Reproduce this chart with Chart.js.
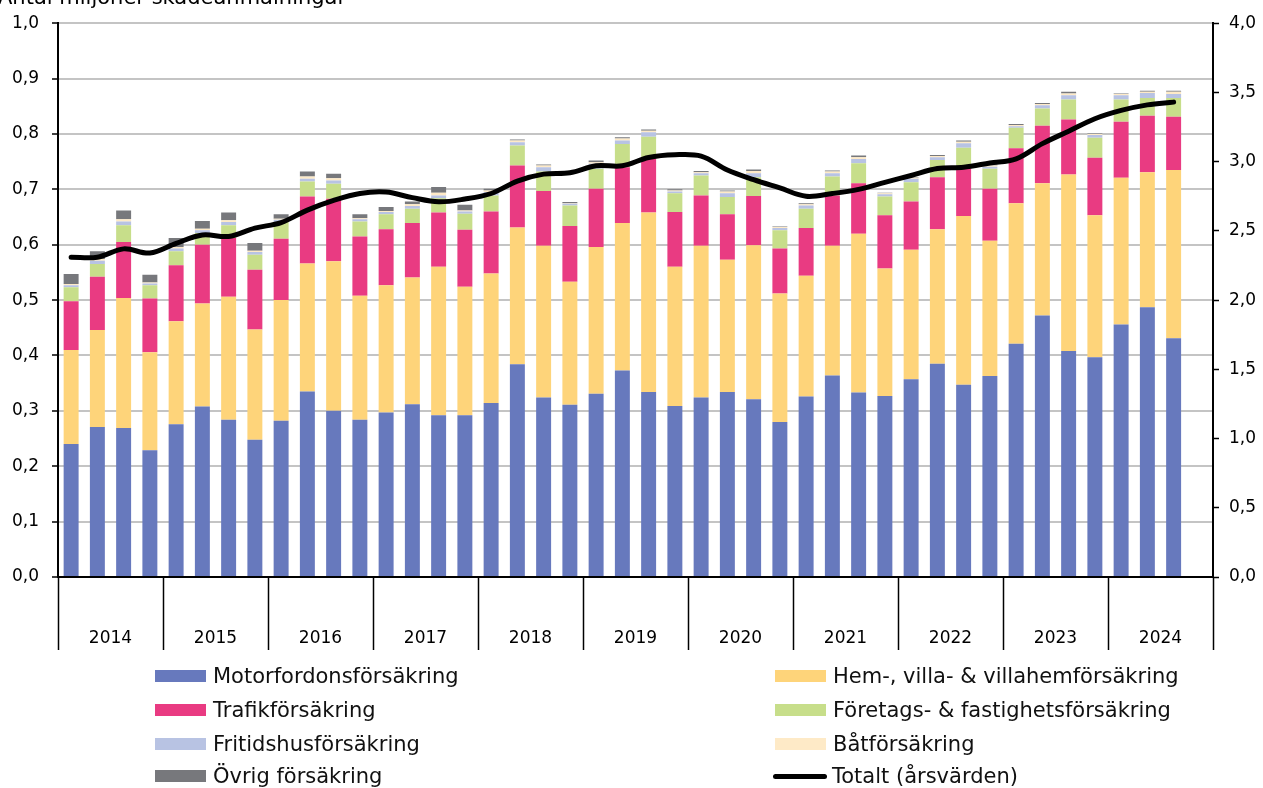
<!DOCTYPE html>
<html lang="sv">
<head>
<meta charset="utf-8">
<title>Antal miljoner skadeanmälningar</title>
<script src="https://cdn.jsdelivr.net/npm/chart.js@4.4.1/dist/chart.umd.min.js"></script>
<style>
    html, body { margin: 0; padding: 0; background: #fff; }
    #wrap { position: relative; width: 1263px; height: 788px; overflow: hidden; font-family: "DejaVu Sans", Verdana, sans-serif; }
    #title { position: absolute; left: -2px; top: -13px; font-size: 21px; line-height: 21px; color: #000; white-space: nowrap; }
    #legend { position: absolute; left: 0; top: 0; width: 100%; height: 100%; pointer-events: none; }
    .item { position: absolute; display: flex; align-items: center; font-size: 21px; color: #111; white-space: nowrap; height: 30px; }
    .swatch { width: 51px; height: 12px; margin-right: 7px; }
    .swatch.line { height: 5px; border-radius: 3px; margin-right: 5px; }
</style>
</head>
<body>
<div id="wrap">
    <canvas id="chart" width="1263" height="788"></canvas>
    <div id="title">Antal miljoner skadeanmälningar</div>
    <div id="legend"></div>
</div>
<script>
// -------------------------
// Data (miljoner skadeanmälningar per kvartal)
// -------------------------
const years = ['2014', '2015', '2016', '2017', '2018', '2019', '2020', '2021', '2022', '2023', '2024'];
const quarters = years.flatMap(y => ['K1', 'K2', 'K3', 'K4'].map(q => y + ' ' + q));

const motor = [0.240, 0.271, 0.269, 0.229, 0.276, 0.308, 0.284, 0.248, 0.282, 0.335, 0.300, 0.284,
    0.297, 0.312, 0.292, 0.292, 0.314, 0.384, 0.324, 0.311, 0.331, 0.373, 0.334, 0.309,
    0.324, 0.334, 0.321, 0.280, 0.326, 0.364, 0.333, 0.327, 0.357, 0.385, 0.347, 0.363,
    0.421, 0.472, 0.408, 0.397, 0.456, 0.487, 0.431, null];
const hem = [0.170, 0.175, 0.235, 0.177, 0.186, 0.186, 0.222, 0.199, 0.218, 0.231, 0.270, 0.224,
    0.230, 0.229, 0.268, 0.232, 0.234, 0.247, 0.274, 0.222, 0.265, 0.266, 0.324, 0.251,
    0.274, 0.239, 0.278, 0.232, 0.218, 0.234, 0.287, 0.230, 0.234, 0.243, 0.305, 0.244,
    0.254, 0.239, 0.319, 0.256, 0.265, 0.244, 0.304, null];
const trafik = [0.088, 0.096, 0.101, 0.097, 0.101, 0.106, 0.106, 0.108, 0.111, 0.121, 0.113, 0.107,
    0.101, 0.098, 0.098, 0.103, 0.112, 0.112, 0.099, 0.101, 0.105, 0.101, 0.097, 0.099,
    0.091, 0.082, 0.089, 0.081, 0.086, 0.091, 0.091, 0.096, 0.087, 0.094, 0.085, 0.094,
    0.099, 0.104, 0.099, 0.104, 0.101, 0.102, 0.096, null];
const foretag = [0.025, 0.023, 0.030, 0.024, 0.025, 0.021, 0.023, 0.027, 0.030, 0.027, 0.027, 0.027,
    0.027, 0.026, 0.026, 0.029, 0.029, 0.036, 0.035, 0.037, 0.036, 0.042, 0.040, 0.034,
    0.036, 0.031, 0.034, 0.033, 0.035, 0.034, 0.036, 0.034, 0.035, 0.031, 0.038, 0.036,
    0.037, 0.031, 0.036, 0.036, 0.040, 0.032, 0.034, null];
const fritidshus = [0.004, 0.006, 0.007, 0.003, 0.005, 0.005, 0.006, 0.005, 0.004, 0.005, 0.006, 0.004,
    0.004, 0.005, 0.005, 0.004, 0.006, 0.006, 0.008, 0.003, 0.009, 0.006, 0.008, 0.003,
    0.004, 0.007, 0.007, 0.004, 0.006, 0.006, 0.008, 0.004, 0.006, 0.005, 0.008, 0.004,
    0.003, 0.006, 0.008, 0.005, 0.008, 0.009, 0.007, null];
const bat = [0.002, 0.003, 0.004, 0.002, 0.003, 0.003, 0.003, 0.002, 0.002, 0.004, 0.004, 0.002,
    0.002, 0.003, 0.005, 0.002, 0.003, 0.003, 0.003, 0.001, 0.003, 0.004, 0.003, 0.002,
    0.002, 0.003, 0.004, 0.002, 0.002, 0.003, 0.003, 0.002, 0.002, 0.002, 0.003, 0.002,
    0.002, 0.002, 0.003, 0.002, 0.002, 0.002, 0.004, null];
const ovrig = [0.018, 0.014, 0.016, 0.014, 0.016, 0.014, 0.014, 0.014, 0.008, 0.009, 0.008, 0.007,
    0.007, 0.005, 0.010, 0.010, 0.003, 0.002, 0.002, 0.002, 0.003, 0.002, 0.002, 0.002,
    0.002, 0.002, 0.003, 0.001, 0.002, 0.002, 0.003, 0.001, 0.001, 0.002, 0.002, 0.002,
    0.002, 0.002, 0.003, 0.001, 0.001, 0.002, 0.002, null];
// rullande årsvärden, höger axel
const totalt = [2.31, 2.31, 2.37, 2.34, 2.41, 2.47, 2.46, 2.52, 2.56, 2.65, 2.72, 2.77,
    2.78, 2.74, 2.71, 2.73, 2.77, 2.86, 2.91, 2.92, 2.97, 2.97, 3.03, 3.05,
    3.04, 2.94, 2.87, 2.81, 2.75, 2.77, 2.80, 2.85, 2.90, 2.95, 2.96, 2.99,
    3.02, 3.13, 3.22, 3.31, 3.37, 3.41, 3.43, null];

const leftTicks = [0, 0.1, 0.2, 0.3, 0.4, 0.5, 0.6, 0.7, 0.8, 0.9, 1.0];
const rightTicks = [0, 0.5, 1.0, 1.5, 2.0, 2.5, 3.0, 3.5, 4.0];

const comma = v => Number(v).toFixed(1).replace('.', ',');

function bar(label, data, color) {
    return {
        type: 'bar',
        label: label,
        data: data,
        backgroundColor: color,
        borderWidth: 0,
        yAxisID: 'y',
        order: 1,
        barPercentage: 0.57,
        categoryPercentage: 1.0
    };
}

const datasets = [
    bar('Motorfordonsförsäkring', motor, '#6779bd'),
    bar('Hem-, villa- & villahemförsäkring', hem, '#fed47a'),
    bar('Trafikförsäkring', trafik, '#e93b82'),
    bar('Företags- & fastighetsförsäkring', foretag, '#c7de8a'),
    bar('Fritidshusförsäkring', fritidshus, '#b8c3e3'),
    bar('Båtförsäkring', bat, '#feeac7'),
    bar('Övrig försäkring', ovrig, '#77787c'),
    {
        type: 'line',
        label: 'Totalt (årsvärden)',
        data: totalt,
        borderColor: '#000',
        borderWidth: 5,
        borderCapStyle: 'round',
        borderJoinStyle: 'round',
        pointRadius: 0,
        tension: 0.35,
        fill: false,
        yAxisID: 'y2',
        order: 0
    }
];

Chart.defaults.font.family = '"DejaVu Sans", Verdana, sans-serif';
Chart.defaults.font.size = 17;
Chart.defaults.color = '#000';

const chart = new Chart(document.getElementById('chart'), {
    data: { labels: quarters, datasets: datasets },
    options: {
        responsive: false,
        animation: false,
        layout: { padding: { top: 21, bottom: 136, left: 0, right: 0 } },
        plugins: {
            legend: { display: false },
            tooltip: { enabled: false }
        },
        scales: {
            x: {
                stacked: true,
                display: false,
                offset: true
            },
            years: {
                type: 'category',
                labels: years,
                position: 'bottom',
                offset: true,
                afterFit: s => { s.height = 75; },
                border: { display: true, color: '#000', width: 2 },
                grid: {
                    offset: true,
                    drawOnChartArea: false,
                    tickLength: 73,
                    tickColor: '#000',
                    tickWidth: 1.5
                },
                ticks: { padding: -22, maxRotation: 0, autoSkip: false }
            },
            y: {
                stacked: true,
                position: 'left',
                min: 0,
                max: 1,
                afterFit: s => { s.width = 58; },
                afterBuildTicks: s => { s.ticks = leftTicks.map(v => ({ value: v })); },
                border: { display: true, color: '#000', width: 2 },
                grid: { color: '#c4c4c4', lineWidth: 2, tickLength: 6, tickColor: '#000', tickWidth: 1.5 },
                ticks: { padding: 13, callback: comma }
            },
            y2: {
                position: 'right',
                min: 0,
                max: 4,
                afterFit: s => { s.width = 50; },
                afterBuildTicks: s => { s.ticks = rightTicks.map(v => ({ value: v })); },
                border: { display: true, color: '#000', width: 2 },
                grid: { drawOnChartArea: false, tickLength: 6, tickColor: '#000', tickWidth: 1.5 },
                ticks: { padding: 10, callback: comma }
            }
        }
    }
});

// -------------------------
// Legend, two columns like the original
// -------------------------
const legend = document.getElementById('legend');
const cols = [155, 775];
const rows = [676, 710, 744, 776];
chart.data.datasets.forEach((ds, i) => {
    const item = document.createElement('div');
    item.className = 'item';
    item.style.left = cols[i % 2] + 'px';
    item.style.top = (rows[Math.floor(i / 2)] - 15) + 'px';
    const sw = document.createElement('span');
    sw.className = 'swatch' + (ds.type === 'line' ? ' line' : '');
    sw.style.background = ds.type === 'line' ? ds.borderColor : ds.backgroundColor;
    if (ds.type === 'line') { sw.style.width = '54px'; sw.style.marginLeft = '-2px'; }
    item.appendChild(sw);
    item.appendChild(document.createTextNode(ds.label));
    legend.appendChild(item);
});
</script>
</body>
</html>
